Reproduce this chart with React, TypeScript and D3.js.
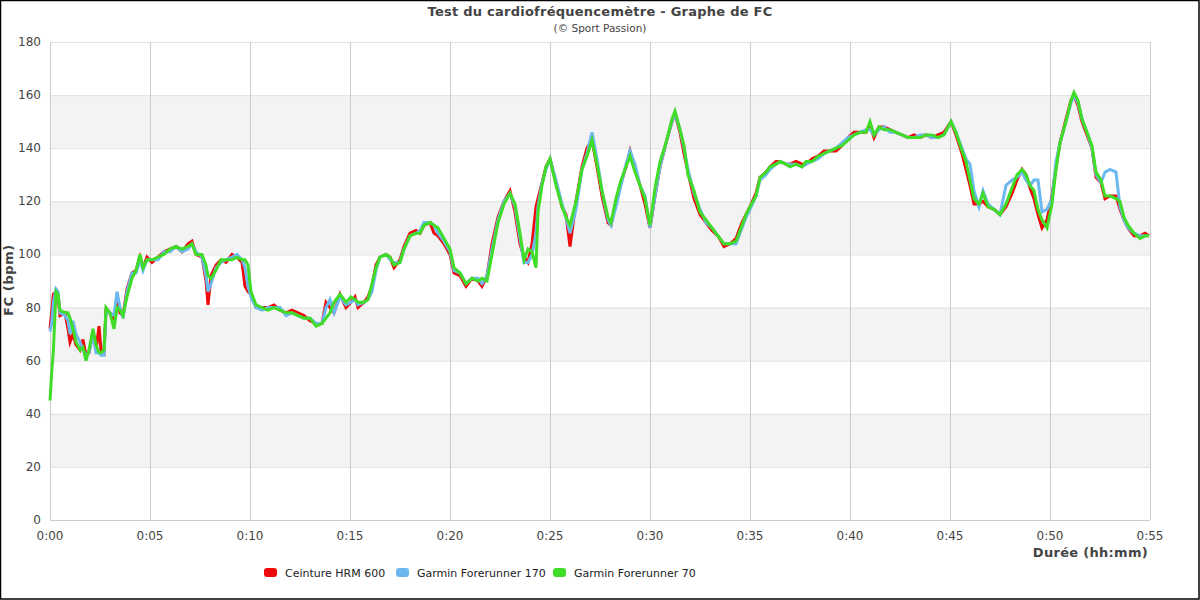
import React from "react";
import * as d3 from "d3";

const title = "Test du cardiofréquencemètre - Graphe de FC";
const subtitle = "(© Sport Passion)";
const xTitle = "Durée (hh:mm)";
const yTitle = "FC (bpm)";
const seriesNames = ["Ceinture HRM 600", "Garmin Forerunner 170", "Garmin Forerunner 70"];
const seriesColors = ["#ee0a0a", "#6cb8f0", "#40dd28"];
const yTicks = [0, 20, 40, 60, 80, 100, 120, 140, 160, 180];
const xTicks = [0, 5, 10, 15, 20, 25, 30, 35, 40, 45, 50, 55];

// time in minutes
const times = [
  0.0, 0.08, 0.17, 0.3, 0.4, 0.5, 0.75, 0.9, 1.0, 1.15, 1.3, 1.5, 1.65, 1.8, 1.95, 2.15, 2.3, 2.45, 2.55, 2.7,
  2.8, 3.0, 3.2, 3.35, 3.5, 3.65, 3.85, 4.1, 4.3, 4.5, 4.65, 4.85, 5.1, 5.4, 5.7, 6.0, 6.3, 6.6, 6.9, 7.1,
  7.3, 7.6, 7.8, 7.9, 8.05, 8.3, 8.55, 8.8, 9.1, 9.35, 9.6, 9.75, 9.9, 10.05, 10.3, 10.6, 10.9, 11.2, 11.5, 11.8,
  12.1, 12.4, 12.7, 13.0, 13.3, 13.6, 13.8, 14.0, 14.2, 14.5, 14.8, 15.05, 15.25, 15.4, 15.7, 15.9, 16.1, 16.3, 16.5, 16.8,
  17.0, 17.2, 17.5, 17.7, 18.0, 18.3, 18.5, 18.7, 19.0, 19.2, 19.4, 19.7, 20.0, 20.2, 20.5, 20.8, 21.1, 21.4, 21.6, 21.85,
  22.1, 22.4, 22.7, 23.0, 23.25, 23.5, 23.7, 23.9, 24.1, 24.3, 24.4, 24.6, 24.8, 25.0, 25.3, 25.6, 25.8, 26.0, 26.3, 26.6,
  26.85, 27.1, 27.35, 27.6, 27.9, 28.05, 28.3, 28.55, 28.8, 29.0, 29.25, 29.5, 29.75, 30.0, 30.25, 30.5, 30.8, 31.1, 31.25, 31.5,
  31.7, 31.9, 32.2, 32.5, 32.8, 33.1, 33.4, 33.7, 34.0, 34.3, 34.6, 34.8, 35.0, 35.3, 35.5, 35.8, 36.0, 36.3, 36.5, 36.8,
  37.0, 37.3, 37.6, 37.8, 38.1, 38.4, 38.7, 39.0, 39.3, 39.6, 39.9, 40.2, 40.5, 40.8, 41.0, 41.2, 41.45, 41.7, 42.0, 42.3,
  42.6, 42.9, 43.2, 43.5, 43.8, 44.1, 44.4, 44.7, 45.05, 45.3, 45.6, 45.8, 46.0, 46.2, 46.45, 46.65, 46.9, 47.2, 47.5, 47.8,
  48.1, 48.35, 48.6, 48.8, 49.0, 49.2, 49.4, 49.6, 49.85, 50.1, 50.3, 50.5, 50.8, 51.05, 51.2, 51.4, 51.6, 51.85, 52.1, 52.3,
  52.55, 52.75, 53.0, 53.3, 53.5, 53.7, 53.9, 54.2, 54.5, 54.75, 54.95,
];

const hrm600 = [
  72, 78, 85, 86, 84, 77, 78, 72, 67, 70, 66, 64, 68, 62, 63, 71, 64, 73, 64, 63,
  79, 78, 76, 84, 78, 77, 87, 93, 94, 99, 95, 99, 97, 99, 101, 102, 103, 101, 104, 105,
  100, 99, 90, 81, 92, 96, 98, 97, 100, 99, 97, 88, 86, 85, 80, 80, 80, 81, 79, 78,
  79, 78, 77, 75, 74, 74, 82, 80, 78, 85, 80, 82, 84, 80, 82, 84, 88, 96, 99, 100,
  99, 95, 98, 103, 108, 109, 108, 111, 112, 108, 107, 104, 100, 93, 92, 88, 91, 90, 88, 92,
  104, 114, 120, 124, 116, 104, 99, 97, 104, 118, 121, 127, 133, 136, 127, 118, 115, 103, 120, 133,
  140, 143, 133, 122, 112, 111, 120, 127, 133, 139, 132, 126, 119, 110, 122, 133, 142, 150, 153, 146,
  138, 131, 121, 115, 112, 109, 107, 103, 104, 106, 112, 115, 118, 123, 129, 131, 133, 135, 135, 134,
  134, 135, 134, 134, 136, 137, 139, 139, 139, 141, 144, 146, 146, 146, 149, 144, 148, 148, 147, 146,
  145, 144, 145, 144, 145, 144, 145, 146, 150, 145, 138, 132, 126, 119, 119, 120, 118, 117, 115, 118,
  123, 128, 132, 130, 125, 121, 115, 110, 113, 122, 133, 142, 151, 158, 160, 156, 150, 145, 140, 129,
  127, 121, 122, 122, 117, 113, 110, 107, 107, 108, 107,
];

const fr170 = [
  71, 74, 82, 87, 86, 78, 77, 75, 70, 75, 70, 67, 64, 62, 63, 70, 63, 63, 62, 62,
  78, 78, 77, 86, 80, 76, 86, 93, 93, 98, 94, 98, 98, 98, 101, 101, 103, 101, 102, 104,
  101, 99, 92, 86, 89, 95, 97, 98, 99, 100, 98, 95, 88, 84, 80, 79, 80, 80, 80, 77,
  78, 77, 76, 76, 74, 74, 80, 83, 78, 84, 81, 82, 83, 81, 82, 83, 86, 94, 99, 100,
  98, 97, 97, 102, 107, 108, 109, 112, 112, 111, 108, 105, 101, 94, 93, 89, 91, 91, 89, 92,
  102, 113, 120, 123, 118, 106, 97, 97, 100, 108, 118, 127, 132, 136, 128, 119, 114, 108, 117, 132,
  138, 146, 136, 124, 113, 111, 118, 126, 134, 139, 134, 126, 122, 110, 122, 133, 142, 150, 153, 147,
  140, 132, 123, 117, 112, 110, 107, 104, 104, 104, 110, 114, 117, 122, 128, 130, 132, 134, 135, 134,
  134, 134, 133, 134, 135, 136, 138, 139, 140, 142, 144, 145, 146, 147, 147, 145, 147, 148, 146, 146,
  145, 144, 144, 145, 145, 144, 144, 145, 150, 146, 140, 136, 134, 124, 118, 124, 119, 117, 115, 126,
  128, 129, 131, 128, 126, 128, 128, 116, 117, 121, 135, 142, 150, 157, 160, 157, 151, 146, 140, 130,
  127, 131, 132, 131, 118, 113, 110, 108, 107, 107, 107,
];

const fr70 = [
  45, 55, 64, 86, 85, 79, 78, 78, 76, 72, 67, 64, 65, 60, 64, 72, 66, 63, 63, 64,
  80, 78, 72, 80, 79, 77, 84, 91, 94, 100, 95, 98, 98, 99, 100, 102, 103, 102, 103, 104,
  100, 100, 96, 92, 91, 94, 98, 98, 98, 99, 98, 98, 96, 86, 81, 80, 79, 80, 79, 78,
  78, 77, 76, 76, 73, 74, 76, 78, 82, 85, 82, 84, 83, 82, 82, 83, 89, 95, 99, 100,
  99, 96, 97, 102, 107, 108, 108, 111, 112, 111, 110, 106, 102, 95, 93, 89, 91, 90, 91, 90,
  100, 112, 119, 123, 119, 108, 98, 102, 101, 95, 116, 126, 133, 136, 126, 118, 114, 111, 120, 132,
  137, 143, 134, 124, 114, 112, 121, 128, 133, 137, 131, 126, 121, 111, 125, 135, 142, 151, 154, 147,
  141, 130, 124, 116, 113, 110, 107, 104, 104, 105, 111, 115, 118, 122, 129, 131, 133, 134, 135, 134,
  133, 134, 133, 135, 135, 137, 138, 139, 140, 141, 143, 145, 146, 146, 150, 145, 148, 147, 147, 146,
  145, 144, 144, 144, 145, 145, 144, 145, 150, 146, 139, 135, 128, 121, 119, 123, 118, 117, 115, 119,
  125, 130, 132, 130, 126, 124, 117, 113, 110, 119, 132, 142, 150, 158, 161, 158, 151, 146, 141, 131,
  128, 122, 122, 121, 120, 114, 111, 108, 106, 107, 107,
];

const W = 1200;
const H = 600;
const M = { left: 50, right: 1150, top: 42, bottom: 520 };
const FONT = "'DejaVu Sans', Verdana, sans-serif";

function fmt(m: number) {
  const h = Math.floor(m / 60);
  const mm = m % 60;
  return `${h}:${mm < 10 ? "0" : ""}${mm}`;
}

export default function App() {
  const x = d3.scaleLinear().domain([0, 55]).range([M.left, M.right]);
  const y = d3.scaleLinear().domain([0, 180]).range([M.bottom, M.top]);
  const allSeries = [hrm600, fr170, fr70];
  const line = d3
    .line<number>()
    .x((_, i) => x(times[i]))
    .y((v) => y(v))
    .curve(d3.curveLinear);

  const bands: [number, number][] = [];
  for (let v = 20; v < 180; v += 40) bands.push([v, v + 20]);

  const legendX = [264, 396, 553];

  return (
    <svg
      width={W}
      height={H}
      style={{ position: "fixed", left: 0, top: 0, background: "#fff" }}
      fontFamily={FONT}
    >
      <rect x={0} y={0} width={W} height={H} fill="#fff" />
      {bands.map(([a, b]) => (
        <rect key={a} x={M.left} y={y(b)} width={M.right - M.left} height={y(a) - y(b)} fill="#f3f3f3" />
      ))}
      {yTicks.map((t) => (
        <line key={"h" + t} x1={M.left} x2={M.right} y1={y(t) + 0.5} y2={y(t) + 0.5} stroke="#e1e1e1" strokeWidth={1} />
      ))}
      {xTicks.map((t) => (
        <line key={"v" + t} x1={x(t) + 0.5} x2={x(t) + 0.5} y1={M.top} y2={M.bottom} stroke="#cccccc" strokeWidth={1} />
      ))}
      <line x1={M.left} x2={M.right} y1={M.bottom + 0.5} y2={M.bottom + 0.5} stroke="#cccccc" />
      {allSeries.map((s, i) => (
        <path
          key={i}
          d={line(s) || ""}
          fill="none"
          stroke={seriesColors[i]}
          strokeWidth={3}
          strokeLinejoin="miter"
        />
      ))}
      {yTicks.map((t) => (
        <text key={"yl" + t} x={41} y={y(t) + 4} textAnchor="end" fontSize={12} fill="#444">
          {t}
        </text>
      ))}
      {xTicks.map((t) => (
        <text key={"xl" + t} x={x(t)} y={540} textAnchor="middle" fontSize={12} fill="#444">
          {fmt(t)}
        </text>
      ))}
      <text x={600} y={16} textAnchor="middle" fontSize={13} fontWeight="bold" fill="#444" letterSpacing={0.25}>
        {title}
      </text>
      <text x={600} y={32} textAnchor="middle" fontSize={10.5} fill="#444">
        {subtitle}
      </text>
      <text x={1148} y={557} textAnchor="end" fontSize={13} fontWeight="bold" fill="#444" letterSpacing={0.3}>
        {xTitle}
      </text>
      <text
        transform={`translate(13,280) rotate(-90)`}
        textAnchor="middle"
        fontSize={13}
        fontWeight="bold"
        fill="#444"
        letterSpacing={0.6}
      >
        {yTitle}
      </text>
      {seriesNames.map((n, i) => (
        <g key={n} transform={`translate(${legendX[i]},573)`}>
          <rect x={0} y={-5} width={13} height={9} rx={3} fill={seriesColors[i]} />
          <text x={21} y={3.5} fontSize={11} fill="#222">
            {n}
          </text>
        </g>
      ))}
      <rect x={0.5} y={0.5} width={W - 1.5} height={H - 1.5} fill="none" stroke="#000" strokeWidth={1.5} />
    </svg>
  );
}
